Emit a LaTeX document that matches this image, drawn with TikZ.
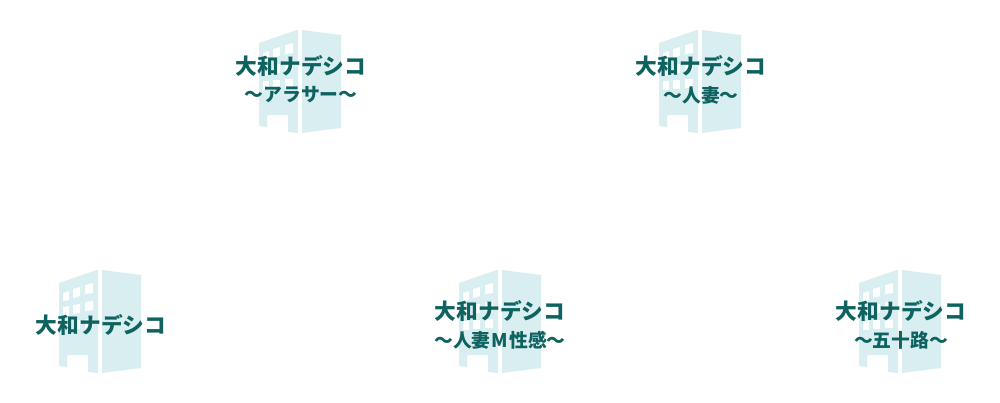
\documentclass[tikz,border=0pt]{standalone}
\usepackage{fontspec}
\newfontfamily\cjk{Noto Sans CJK JP}[BoldFont={Noto Sans CJK JP Black}]
\definecolor{bldg}{HTML}{D9EEF0}
\definecolor{ink}{HTML}{0E625F}
\tikzset{
  bfill/.style={fill=bldg,draw=none},
  wfill/.style={fill=white,draw=none},
  titletext/.style={text=ink,inner sep=0pt,font=\cjk\bfseries\fontsize{21.7}{24}\selectfont},
  subtext/.style={text=ink,inner sep=0pt,font=\cjk\bfseries\fontsize{18.8}{20}\selectfont},
}
\newcommand{\bldgicon}[2]{%
\begin{scope}[shift={(#1,#2)},x=1pt,y=-1pt]
\fill[bfill] (97,270) -- (59,283) -- (59,366) -- (67,367) -- (67,355) -- (88,355) -- (88,372) -- (98,373) -- (98,270) -- cycle;
\fill[bfill] (102,270) -- (141,275) -- (141,368) -- (102,373) -- cycle;
\fill[wfill] (63,293) -- (69,291) -- (69,300) -- (63,301) -- cycle;
\fill[wfill] (73,289) -- (80,287) -- (80,296) -- (73,298) -- cycle;
\fill[wfill] (85,285) -- (93,283) -- (93,293) -- (85,294) -- cycle;
\fill[wfill] (63,307) -- (69,306) -- (69,315) -- (63,316) -- cycle;
\fill[wfill] (73,305) -- (80,304) -- (80,313) -- (73,314) -- cycle;
\fill[wfill] (85,302) -- (93,301) -- (93,310) -- (85,311) -- cycle;
\fill[wfill] (63,321) -- (69,321) -- (69,330) -- (63,330) -- cycle;
\fill[wfill] (73,320) -- (80,320) -- (80,329) -- (73,329) -- cycle;
\fill[wfill] (85,319) -- (93,319) -- (93,328) -- (85,328) -- cycle;
\end{scope}}
\begin{document}
\begin{tikzpicture}[x=1pt,y=-1pt]
\useasboundingbox (0,0) rectangle (1000,402);
\fill[white] (0,0) rectangle (1000,402);
\bldgicon{200pt}{240pt}
\bldgicon{600pt}{240pt}
\bldgicon{0pt}{0pt}
\bldgicon{400pt}{0pt}
\bldgicon{800pt}{0pt}
\node[titletext] (t1) at (301,66) {大和ナデシコ};
\node[subtext] (s1) at (301,95) {～アラサー～};
\node[titletext] (t2) at (701,66) {大和ナデシコ};
\node[subtext] (s2) at (701,95) {～人妻～};
\node[titletext] (t3) at (101,325) {大和ナデシコ};
\node[titletext] (t4) at (500,311) {大和ナデシコ};
\node[subtext] (s4) at (500,340) {～人妻\kern1pt M\kern1pt 性感～};
\node[titletext] (t5) at (901,311) {大和ナデシコ};
\node[subtext] (s5) at (901,340) {～五十路～};
\end{tikzpicture}
\end{document}
